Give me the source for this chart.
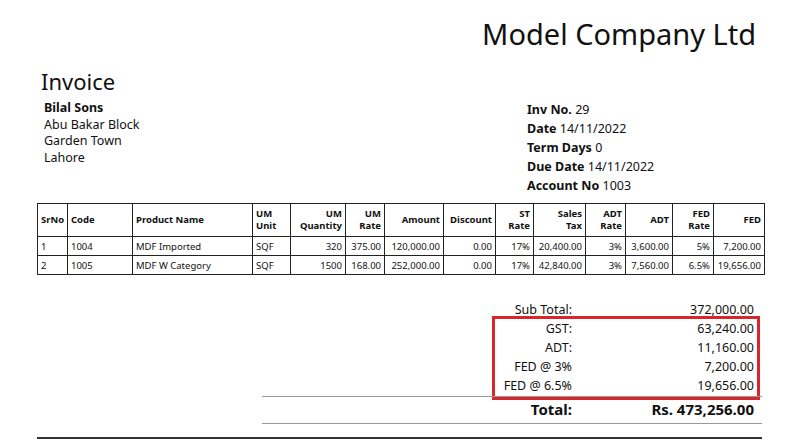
<!DOCTYPE html>
<html>
<head>
<meta charset="utf-8">
<script src="https://cdn.jsdelivr.net/npm/chart.js@4/dist/chart.umd.min.js"></script>
<style>
body { margin:0; width:800px; height:446px; background:#fff; font-family:"Noto Sans",sans-serif; color:#111; position:relative; overflow:hidden; }
.abs { position:absolute; }
table.items { border-collapse:collapse; table-layout:fixed; font-size:9.5px; position:absolute; left:37px; top:203px; width:727px; }
table.items td, table.items th { border:1px solid #222; padding:0 3px; overflow:hidden; white-space:nowrap; }
table.items th { font-weight:bold; text-align:left; height:32px; vertical-align:middle; line-height:12px; }
table.items th.r, table.items td.r { text-align:right; }
table.items td { height:18px; }
.tot { position:absolute; font-size:12.5px; }
</style>
</head>
<body>
<div class="abs" style="right:44px;top:14px;font-size:29px;">Model Company Ltd</div>
<div class="abs" style="left:41px;top:66px;font-size:22px;">Invoice</div>
<div class="abs" style="left:44px;top:100px;font-size:12.5px;line-height:16.5px;">
<b>Bilal Sons</b><br>Abu Bakar Block<br>Garden Town<br>Lahore</div>
<div class="abs" style="left:527px;top:100px;font-size:12.5px;line-height:19px;font-weight:bold;" id="meta"></div>
<table class="items" id="items"></table>
<div id="totals"></div>
<div class="abs" style="left:492px;top:316px;width:262px;height:78px;border:3px solid #d9262c;"></div>
<div class="abs" style="left:262px;top:396px;width:500px;border-top:1px solid #999;"></div>
<div class="abs" style="left:262px;top:423px;width:500px;border-top:1px solid #999;"></div>
<div class="abs" style="left:37px;top:437px;width:725px;border-top:2px solid #333;"></div>
<canvas id="c" width="1" height="1" style="position:absolute;left:0;top:0;opacity:0"></canvas>
<script>
const headers = ['SrNo','Code','Product Name','UM<br>Unit','UM<br>Quantity','UM<br>Rate','Amount','Discount','ST<br>Rate','Sales<br>Tax','ADT<br>Rate','ADT','FED<br>Rate','FED'];
const widths = [30,65,120,38,55,39,59,52,38,52,40,47,41,51];
const rightCols = [4,5,6,7,8,9,10,11,12,13];
const row1 = ['1','1004','MDF Imported','SQF','320','375.00','120,000.00','0.00','17%','20,400.00','3%','3,600.00','5%','7,200.00'];
const row2 = ['2','1005','MDF W Category','SQF','1500','168.00','252,000.00','0.00','17%','42,840.00','3%','7,560.00','6.5%','19,656.00'];
const metaLabels = ['Inv No.','Date','Term Days','Due Date','Account No'];
const metaValues = ['29','14/11/2022','0','14/11/2022','1003'];
const totalLabels = ['Sub Total:','GST:','ADT:','FED @ 3%','FED @ 6.5%'];
const totalValues = ['372,000.00','63,240.00','11,160.00','7,200.00','19,656.00'];

document.getElementById('meta').innerHTML = metaLabels.map((l,i)=>l+' <span style="font-weight:normal">'+metaValues[i]+'</span>').join('<br>');

let html = '<colgroup>' + widths.map(w=>'<col style="width:'+w+'px">').join('') + '</colgroup>';
html += '<tr>' + headers.map((h,i)=>'<th class="'+(rightCols.includes(i)?'r':'')+'">'+h+'</th>').join('') + '</tr>';
[row1,row2].forEach(r=>{ html += '<tr>' + r.map((v,i)=>'<td class="'+(rightCols.includes(i)?'r':'')+'">'+v+'</td>').join('') + '</tr>'; });
document.getElementById('items').innerHTML = html;

let t = '';
totalLabels.forEach((l,i)=>{
  const y = 301 + i*19;
  t += '<div class="tot" style="right:228px;top:'+y+'px">'+l+'</div>';
  t += '<div class="tot" style="right:46px;top:'+y+'px">'+totalValues[i]+'</div>';
});
t += '<div class="tot" style="right:228px;top:399px;font-size:15px;font-weight:bold">Total:</div>';
t += '<div class="tot" style="right:46px;top:399px;font-size:15px;font-weight:bold">Rs. 473,256.00</div>';
document.getElementById('totals').innerHTML = t;
</script>
</body>
</html>
